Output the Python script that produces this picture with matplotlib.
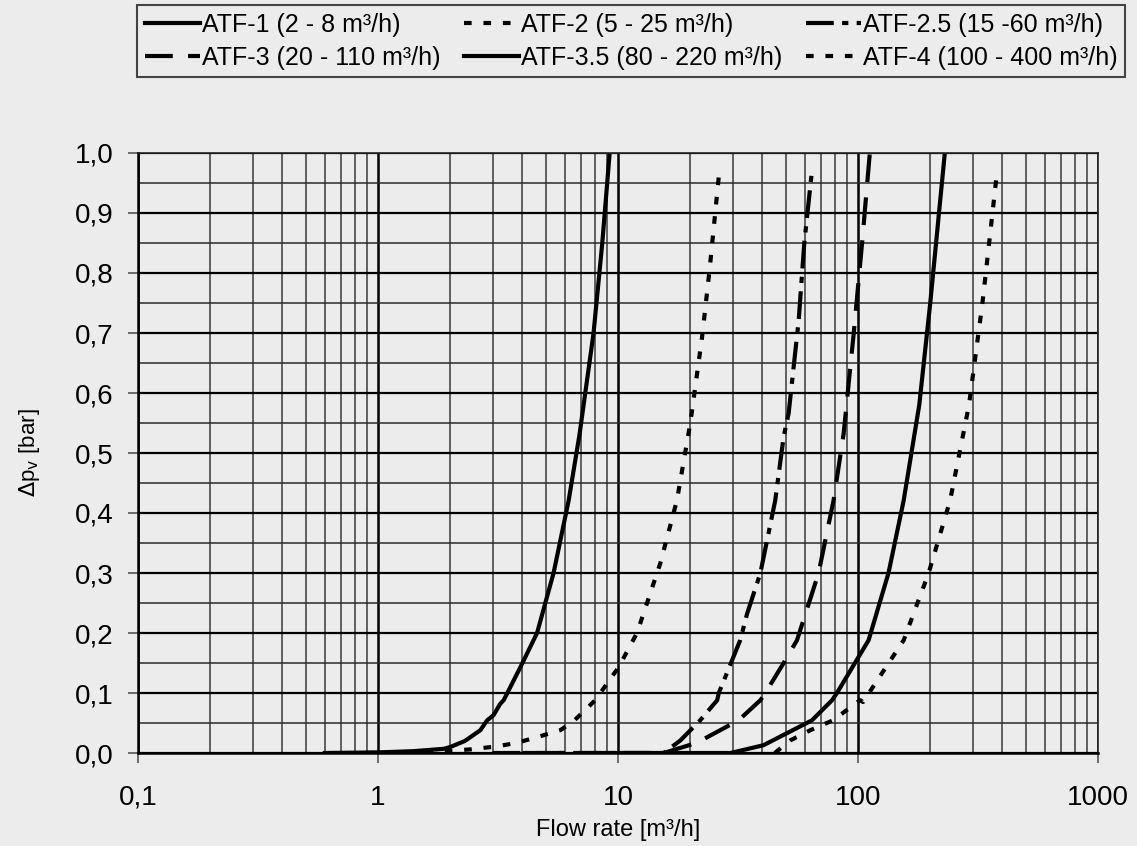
import matplotlib
matplotlib.use("Agg")
import matplotlib.pyplot as plt
from matplotlib.ticker import FixedLocator, FixedFormatter, NullFormatter

# Kennlinien: Durchfluss [m³/h] und Druckverlust [bar]
q_atf1 = [0.6, 1.0, 1.4, 1.88, 2.0, 2.3, 2.5, 2.67, 2.85, 3.03, 3.23, 3.34,
          3.92, 4.6, 5.39, 6.23, 6.92, 7.91, 8.6, 9.23]
p_atf1 = [0.0, 0.001, 0.003, 0.007, 0.01, 0.02, 0.03, 0.038, 0.0545, 0.063,
          0.082, 0.088, 0.143, 0.2, 0.3, 0.421, 0.532, 0.7, 0.85, 1.0]

q_atf2 = [0.9, 1.88, 2.42, 3.13, 3.79, 4.38, 5.03, 5.75, 6.53, 8.04, 10.06,
          12.0, 15.0, 17.6, 20.0, 22.4, 24.1, 26.5]
p_atf2 = [0.0, 0.003, 0.006, 0.011, 0.017, 0.024, 0.031, 0.038, 0.053, 0.088,
          0.143, 0.2, 0.316, 0.421, 0.549, 0.693, 0.807, 0.974]

q_atf25 = [4.0, 15.5, 18.2, 22.0, 25.9, 26.3, 32.3, 34.5, 39.2, 45.2, 49.0,
           51.4, 56.6, 59.7, 64.3]
p_atf25 = [0.0, 0.0, 0.021, 0.0545, 0.088, 0.1, 0.188, 0.232, 0.3, 0.421,
           0.527, 0.566, 0.721, 0.849, 0.971]

q_atf3 = [3.0, 15.5, 21.3, 31.8, 39.2, 41.1, 49.0, 55.7, 68.5, 79.1, 87.1,
          96.0, 104.0, 112.0]
p_atf3 = [0.0, 0.0, 0.017, 0.0545, 0.088, 0.1, 0.15, 0.188, 0.3, 0.421,
          0.532, 0.7, 0.85, 1.0]

q_atf35 = [9.0, 29.4, 40.4, 64.3, 78.0, 81.7, 110.7, 134.0, 155.0, 180.0,
           200.0, 230.0]
p_atf35 = [0.0, 0.0, 0.013, 0.0545, 0.088, 0.1, 0.188, 0.3, 0.421, 0.58,
           0.75, 1.0]

q_atf4 = [45.0, 52.2, 63.3, 78.7, 102.0, 105.0, 155.0, 197.0, 242.0, 290.0,
          330.0, 380.0]
p_atf4 = [0.0, 0.021, 0.038, 0.0545, 0.088, 0.085, 0.188, 0.3, 0.421, 0.58,
          0.75, 0.97]

labels = ["ATF-1 (2 - 8 m³/h)", "ATF-2 (5 - 25 m³/h)", "ATF-2.5 (15 -60 m³/h)",
          "ATF-3 (20 - 110 m³/h)", "ATF-3.5 (80 - 220 m³/h)",
          "ATF-4 (100 - 400 m³/h)"]

x_ticks = [0.1, 1, 10, 100, 1000]
x_tick_labels = ["0,1", "1", "10", "100", "1000"]
y_ticks = [0.0, 0.1, 0.2, 0.3, 0.4, 0.5, 0.6, 0.7, 0.8, 0.9, 1.0]
y_tick_labels = ["0,0", "0,1", "0,2", "0,3", "0,4", "0,5", "0,6", "0,7",
                 "0,8", "0,9", "1,0"]

HINTERGRUND = "#ebeceb"

plt.rcParams["font.family"] = ["Liberation Sans", "DejaVu Sans"]
plt.rcParams["lines.scale_dashes"] = False

fig = plt.figure(figsize=(11.37, 8.46), dpi=100, facecolor=HINTERGRUND)
ax = fig.add_axes([138 / 1137, 1 - 753 / 846, 960 / 1137, 600 / 846])
ax.set_facecolor(HINTERGRUND)

ax.set_xscale("log")
ax.set_xlim(0.1, 1000)
ax.set_ylim(0.0, 1.0)

# Raster
minor_x = [m * 10.0 ** e for e in range(-1, 3) for m in range(2, 10)]
ax.xaxis.set_major_locator(FixedLocator(x_ticks))
ax.xaxis.set_major_formatter(FixedFormatter(x_tick_labels))
ax.xaxis.set_minor_locator(FixedLocator(minor_x))
ax.xaxis.set_minor_formatter(NullFormatter())
ax.yaxis.set_major_locator(FixedLocator(y_ticks))
ax.yaxis.set_major_formatter(FixedFormatter(y_tick_labels))
ax.yaxis.set_minor_locator(FixedLocator([0.05 + 0.1 * i for i in range(10)]))

ax.grid(True, which="major", axis="x", color="black", linewidth=1.8)
ax.grid(True, which="minor", axis="x", color="#3a3a3a", linewidth=1.1)
ax.grid(True, which="major", axis="y", color="black", linewidth=1.6)
ax.grid(True, which="minor", axis="y", color="#2a2a2a", linewidth=1.1)
ax.set_axisbelow(True)

ax.tick_params(which="major", direction="out", length=7, width=1.2,
               color="#555555", labelsize=20)
ax.tick_params(which="minor", length=0)
ax.tick_params(axis="y", pad=10.5)
ax.tick_params(axis="x", pad=16)

for side in ["left", "bottom"]:
    ax.spines[side].set_linewidth(1.8)
    ax.spines[side].set_color("black")
for side in ["top", "right"]:
    ax.spines[side].set_linewidth(1.2)
    ax.spines[side].set_color("#222222")

lw = 3.0
ax.plot(q_atf1, p_atf1, color="black", lw=lw, label=labels[0])
ax.plot(q_atf2, p_atf2, color="black", lw=lw, label=labels[1],
        dashes=(5.5, 8.5))
ax.plot(q_atf25, p_atf25, color="black", lw=lw, label=labels[2],
        dashes=(20, 6, 4.5, 6))
ax.plot(q_atf3, p_atf3, color="black", lw=lw, label=labels[3],
        dashes=(20, 11))
ax.plot(q_atf35, p_atf35, color="black", lw=lw, label=labels[4])
ax.plot(q_atf4, p_atf4, color="black", lw=lw, label=labels[5],
        dashes=(5.5, 8.5))

ax.set_xlabel("Flow rate [m³/h]", fontsize=17, labelpad=6)
ax.set_ylabel(r"$\Delta$p$_\mathrm{v}$ [bar]", fontsize=16, labelpad=24)

# Legende zeilenweise wie im Original (matplotlib fuellt spaltenweise)
handles, texts = ax.get_legend_handles_labels()
order = [0, 3, 1, 4, 2, 5]
leg = fig.legend([handles[i] for i in order], [texts[i] for i in order],
                 loc="lower left", mode="expand",
                 bbox_to_anchor=(137 / 1137, 1 - 77 / 846, 988 / 1137,
                                 72 / 846),
                 ncol=3, fontsize=18, frameon=True, fancybox=False,
                 edgecolor="#444444", facecolor=HINTERGRUND, framealpha=1,
                 handlelength=2.2, handletextpad=0.08, columnspacing=0.5,
                 labelspacing=0.35, borderpad=0.3, borderaxespad=0)
leg.get_frame().set_linewidth(1.5)

fig.savefig("out.png", dpi=100, facecolor=HINTERGRUND)
